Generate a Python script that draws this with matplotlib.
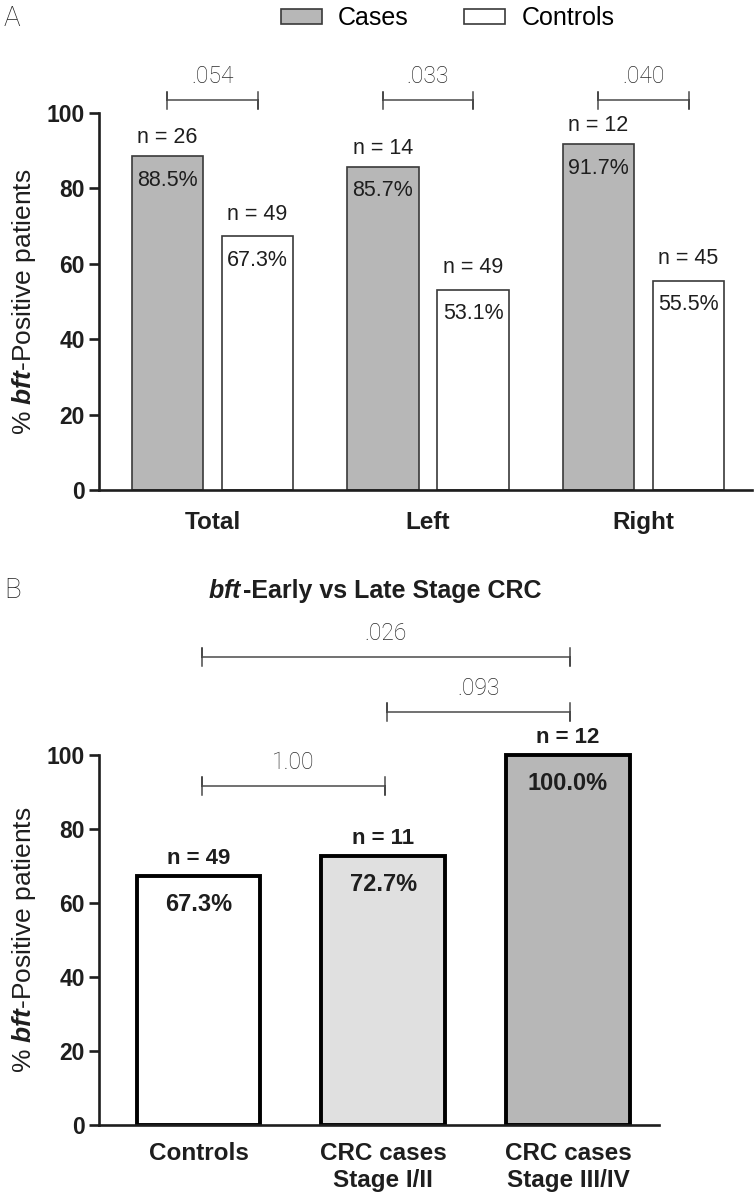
import matplotlib
matplotlib.use("Agg")
import matplotlib.pyplot as plt
from matplotlib.patches import Patch

# data
regions = ["Total", "Left", "Right"]
cases_pct = [88.5, 85.7, 91.7]
controls_pct = [67.3, 53.1, 55.5]
cases_n = [26, 14, 12]
controls_n = [49, 49, 45]
pvals_a = [".054", ".033", ".040"]

groups_b = ["Controls", "CRC cases\nStage I/II", "CRC cases\nStage III/IV"]
pct_b = [67.3, 72.7, 100.0]
n_b = [49, 11, 12]
pairs_b = [(0, 1), (1, 2), (0, 2)]
pvals_b = ["1.00", ".093", ".026"]

main = "Liberation Sans"
light = "Roboto"

plt.rcParams["font.family"] = [main, "DejaVu Sans"]
plt.rcParams["mathtext.fontset"] = "custom"
plt.rcParams["mathtext.rm"] = main
plt.rcParams["mathtext.it"] = main + ":italic"
plt.rcParams["mathtext.bf"] = main + ":bold"
plt.rcParams["mathtext.bfit"] = main + ":bold:italic"

W, H = 754, 1199
fig = plt.figure(figsize=(W / 100, H / 100), dpi=100)

case_col = "#b7b7b7"
dark = "#1e1e1e"
brk_col = "#4a4a4a"
X0 = 99


def style_axes(ax, top):
    for s in ["top", "right"]:
        ax.spines[s].set_visible(False)
    ax.spines["left"].set_bounds(0, 100)
    for s in ["left", "bottom"]:
        ax.spines[s].set_linewidth(1.9)
        ax.spines[s].set_color(dark)
    ax.set_yticks([0, 20, 40, 60, 80, 100])
    ax.tick_params(axis="y", length=7, width=1.9, color=dark, labelsize=16.5, pad=3)
    for lab in ax.get_yticklabels():
        lab.set_fontweight("bold")
        lab.set_color(dark)
    ax.tick_params(axis="x", length=0)
    ax.set_ylabel(r"% $\mathbfit{bft}$-Positive patients", fontsize=19, color=dark)
    wpx = ax.get_position().width * W
    ax.yaxis.set_label_coords((38 - X0) / wpx, 50 / (130 if top else 150))


def bracket(ax, x0, x1, y, label, h=2.3):
    ax.plot([x0, x0, x0, x1, x1, x1], [y - h, y + h, y, y, y - h, y + h],
            color=brk_col, lw=1.1, clip_on=False)
    ax.text((x0 + x1) / 2, y + 3.3, label, ha="center", va="bottom",
            fontsize=16.5, color="#2a2a2a", family=light, fontweight="light")


# Panel A
ax_a = fig.add_axes([X0 / W, 1 - 490 / H, (752 - X0) / W, 490 / H])
ax_a.set_xlim((X0 - 212.5) / 215.5, (752 - 212.5) / 215.5)
ax_a.set_ylim(0, 130)
pos = list(range(len(regions)))
off = 0.209
bw = 0.33
ax_a.bar([p - off for p in pos], cases_pct, bw, color=case_col, edgecolor="#3a3a3a", lw=1.2, zorder=2)
ax_a.bar([p + off for p in pos], controls_pct, bw, color="white", edgecolor="#3a3a3a", lw=1.2, zorder=2)
for p, cv, kv, cn, kn, pv in zip(pos, cases_pct, controls_pct, cases_n, controls_n, pvals_a):
    ax_a.text(p - off, cv - 6.3, f"{cv:.1f}%", ha="center", va="center", fontsize=15.5, color=dark)
    ax_a.text(p + off, kv - 6.3, f"{kv:.1f}%", ha="center", va="center", fontsize=15.5, color=dark)
    ax_a.text(p - off, cv + 5.0, f"n = {cn}", ha="center", va="center", fontsize=15.5, color=dark)
    ax_a.text(p + off, kv + 5.8, f"n = {kn}", ha="center", va="center", fontsize=15.5, color=dark)
    bracket(ax_a, p - off, p + off, 103.4, pv, h=2.2)
ax_a.set_xticks(pos)
ax_a.set_xticklabels(regions, fontsize=17.5, fontweight="bold", color=dark)
ax_a.tick_params(axis="x", pad=15)
style_axes(ax_a, True)

handles = [Patch(facecolor=case_col, edgecolor="#3a3a3a", lw=1.2),
           Patch(facecolor="white", edgecolor="#3a3a3a", lw=1.2)]
fig.legend(handles, ["Cases", "Controls"], loc="center", bbox_to_anchor=(447.5 / W, 1 - 18 / H),
           ncol=2, frameon=False, fontsize=18, handlelength=1.65, handleheight=0.55,
           handletextpad=0.65, columnspacing=2.2, borderpad=0, borderaxespad=0)
fig.text(4 / W, 1 - 18 / H, "A", fontsize=20, family=light, fontweight="light", color=dark,
         va="center", ha="left")

# Panel B
ax_b = fig.add_axes([X0 / W, 74 / H, (659 - X0) / W, 555 / H])
ax_b.set_xlim((X0 - 198.5) / 184.75, (659 - 198.5) / 184.75)
ax_b.set_ylim(0, 150)
pos_b = list(range(len(groups_b)))
ax_b.bar(pos_b, pct_b, 0.67, color=["white", "#e0e0e0", case_col], edgecolor="black", lw=2.8, zorder=2)
for p, v, n in zip(pos_b, pct_b, n_b):
    ax_b.text(p, v - 7.6, f"{v:.1f}%", ha="center", va="center", fontsize=17, fontweight="bold", color=dark)
    ax_b.text(p, v + 4.6, f"n = {n}", ha="center", va="center", fontsize=16, fontweight="bold", color=dark)
heights_b = [91.6, 111.6, 126.5]
for (i, j), pv, hb in zip(pairs_b, pvals_b, heights_b):
    bracket(ax_b, i + 0.02, j + 0.01, hb, pv, h=2.4)
ax_b.set_xticks(pos_b)
ax_b.set_xticklabels(groups_b, fontsize=17.5, fontweight="bold", color=dark, linespacing=1.25, va="top")
ax_b.tick_params(axis="x", pad=12)
style_axes(ax_b, False)

fig.text(4 / W, 1 - 591 / H, "B", fontsize=20, family=light, fontweight="light", color=dark,
         va="center", ha="left")
t1 = fig.text(208 / W, 1 - 591 / H, r"$\mathbfit{bft}$", fontsize=18, color=dark, va="center", ha="left")
ax_b.annotate("-Early vs Late Stage CRC", xy=(1, 0), xycoords=t1, xytext=(0, 0), textcoords="offset points",
              fontsize=18, fontweight="bold", color=dark, va="bottom", ha="left", annotation_clip=False)

fig.savefig("out.png", dpi=100)
